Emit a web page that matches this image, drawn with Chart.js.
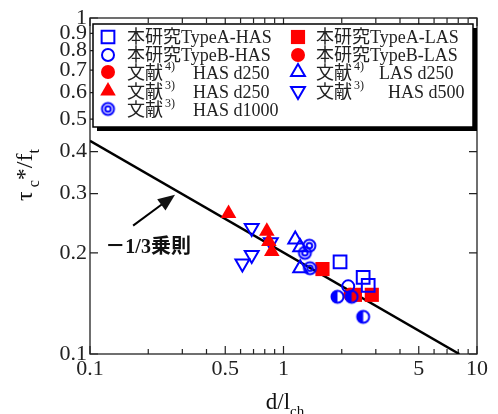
<!DOCTYPE html>
<html>
<head>
<meta charset="utf-8">
<script src="https://cdn.jsdelivr.net/npm/chart.js@4/dist/chart.umd.min.js"></script>
<style>
html, body { margin: 0; padding: 0; background: #fff; }
</style>
</head>
<body>
<canvas id="chart" width="498" height="414"></canvas>
<script>
// tau_c*/f_t vs d/l_ch (log-log)

var xTicks = [0.1, 0.5, 1, 5, 10];
var xMinorTicks = [0.2, 0.3, 0.4, 0.6, 0.7, 0.8, 0.9, 2, 3, 4, 6, 7, 8, 9];
var yTicks = [0.1, 0.2, 0.3, 0.4, 0.5, 0.6, 0.7, 0.8, 0.9, 1];

var typeAHasX = [1.96, 2.58, 2.74];
var typeAHasY = [0.188, 0.169, 0.160];
var typeBHasX = [2.16];
var typeBHasY = [0.159];
var typeALasX = [1.59, 2.34, 2.86];
var typeALasY = [0.179, 0.150, 0.150];
var typeBLasX = [2.21];
var typeBLasY = [0.150];
var ref4HasX = [];
var ref4HasY = [];
var ref3Has250X = [0.52, 0.82, 0.84, 0.87];
var ref3Has250Y = [0.262, 0.232, 0.216, 0.202];
var ref3Has1000X = [1.36, 1.29, 1.37];
var ref3Has1000Y = [0.210, 0.200, 0.180];
var ref4LasX = [1.15, 1.22, 1.22];
var ref4LasY = [0.219, 0.208, 0.180];
var ref3Has500X = [0.685, 0.685, 0.613, 0.86];
var ref3Has500Y = [0.237, 0.197, 0.186, 0.215];
var halfX = [1.90, 2.25, 2.58];
var halfY = [0.148, 0.148, 0.129];

var ruleX = [0.1, 8.1];
var ruleY = [0.431, 0.1];

var BLUE = '#0000ff';
var RED = '#ff0000';
var SERIF = '"Liberation Serif", "Noto Sans CJK JP", serif';

function pts(xs, ys) {
    return xs.map(function (x, i) { return { x: x, y: ys[i] }; });
}

function makeMarker(kind) {
    var c = document.createElement('canvas');
    c.width = 17; c.height = 17;
    var g = c.getContext('2d');
    g.strokeStyle = BLUE; g.fillStyle = BLUE; g.lineWidth = 2;
    if (kind === 'half') {
        g.beginPath(); g.arc(8.5, 8.5, 6, Math.PI / 2, Math.PI * 1.5); g.closePath(); g.fill();
        g.beginPath(); g.arc(8.5, 8.5, 6, 0, Math.PI * 2); g.stroke();
    } else {
        g.beginPath(); g.arc(8.5, 8.5, 6, 0, Math.PI * 2); g.stroke();
        g.beginPath(); g.arc(8.5, 8.5, 2.8, 0, Math.PI * 2); g.stroke();
    }
    return c;
}
var halfImg = makeMarker('half');
var ringImg = makeMarker('ring');

function openSet(label, xs, ys, style, r, rot) {
    return {
        label: label, data: pts(xs, ys), pointStyle: style, pointRadius: r, pointHoverRadius: r,
        pointRotation: rot || 0, pointBackgroundColor: 'rgba(0,0,0,0)', pointBorderColor: BLUE,
        pointBorderWidth: 2, showLine: false
    };
}
function fillSet(label, xs, ys, style, r) {
    return {
        label: label, data: pts(xs, ys), pointStyle: style, pointRadius: r, pointHoverRadius: r,
        pointBackgroundColor: RED, pointBorderColor: RED, pointBorderWidth: 0, showLine: false
    };
}

var datasets = [
    openSet('本研究TypeA-HAS', typeAHasX, typeAHasY, 'rect', 9),
    openSet('本研究TypeB-HAS', typeBHasX, typeBHasY, 'circle', 6),
    fillSet('文献4) HAS d250', ref4HasX, ref4HasY, 'circle', 7),
    fillSet('文献3) HAS d250', ref3Has250X, ref3Has250Y, 'triangle', 9),
    openSet('文献3) HAS d1000', ref3Has1000X, ref3Has1000Y, ringImg, 7),
    fillSet('本研究TypeA-LAS', typeALasX, typeALasY, 'rect', 10),
    fillSet('本研究TypeB-LAS', typeBLasX, typeBLasY, 'circle', 7),
    openSet('文献4) LAS d250', ref4LasX, ref4LasY, 'triangle', 8),
    openSet('文献3) HAS d500', ref3Has500X, ref3Has500Y, 'triangle', 8, 180),
    openSet('half', halfX, halfY, halfImg, 7),
    {
        label: 'rule', data: pts(ruleX, ruleY), showLine: true, pointRadius: 0,
        borderColor: '#000', borderWidth: 2.5, fill: false
    }
];
// half circles drawn above the red squares
datasets[9].order = -1;

// legend layout: [dataset index, column, row, superscript, rest, gap]
var legendCols = [108, 298];
var legendTextX = [127, 316];
var legendRows = [37, 55, 72, 91, 109];
var legendItems = [
    [0, 0, 0], [1, 0, 1], [2, 0, 2, '4)', 'HAS d250', 18], [3, 0, 3, '3)', 'HAS d250', 18],
    [4, 0, 4, '3)', 'HAS d1000', 18],
    [5, 1, 0], [6, 1, 1], [7, 1, 2, '4)', 'LAS d250', 15], [8, 1, 3, '3)', 'HAS d500', 24]
];

function drawMarker(ctx, ds, x, y) {
    var st = ds.pointStyle, r = ds.pointRadius, rot = (ds.pointRotation || 0) * Math.PI / 180;
    if (st instanceof HTMLCanvasElement) {
        ctx.drawImage(st, x - st.width / 2, y - st.height / 2);
        return;
    }
    ctx.save();
    ctx.translate(x, y);
    ctx.rotate(rot);
    ctx.beginPath();
    if (st === 'rect') {
        var s = r * Math.SQRT1_2;
        ctx.rect(-s, -s, 2 * s, 2 * s);
    } else if (st === 'triangle') {
        for (var k = 0; k < 3; k++) {
            var a = k * 2 * Math.PI / 3;
            if (k === 0) ctx.moveTo(Math.sin(a) * r, -Math.cos(a) * r);
            else ctx.lineTo(Math.sin(a) * r, -Math.cos(a) * r);
        }
        ctx.closePath();
    } else {
        ctx.arc(0, 0, r, 0, Math.PI * 2);
    }
    ctx.fillStyle = ds.pointBackgroundColor;
    ctx.fill();
    if (ds.pointBorderWidth > 0) {
        ctx.lineWidth = ds.pointBorderWidth;
        ctx.strokeStyle = ds.pointBorderColor;
        ctx.stroke();
    }
    ctx.restore();
}

function richWidth(ctx, parts, size) {
    var w = 0;
    parts.forEach(function (p) {
        ctx.font = (p[1] ? Math.round(size * 0.65) : size) + 'px ' + SERIF;
        w += ctx.measureText(p[0]).width;
    });
    return w;
}
function drawRich(ctx, parts, x, y, size) {
    parts.forEach(function (p) {
        ctx.font = (p[1] ? Math.round(size * 0.65) : size) + 'px ' + SERIF;
        var dy = p[1] === 'sub' ? size * 0.3 : (p[1] === 'sup' ? -size * 0.4 : 0);
        ctx.fillText(p[0], x, y + dy);
        x += ctx.measureText(p[0]).width;
    });
}

var framePlugin = {
    id: 'frame',
    beforeDatasetsDraw: function (chart) {
        var ctx = chart.ctx, a = chart.chartArea, xs = chart.scales.x, ys = chart.scales.y;
        ctx.save();
        ctx.strokeStyle = '#222';
        ctx.lineWidth = 1.3;
        ctx.strokeRect(a.left, a.top, a.right - a.left, a.bottom - a.top);
        ctx.lineWidth = 1.2;
        ctx.beginPath();
        function xt(v, len) {
            var p = xs.getPixelForValue(v);
            ctx.moveTo(p, a.bottom); ctx.lineTo(p, a.bottom - len);
            ctx.moveTo(p, a.top); ctx.lineTo(p, a.top + len);
        }
        xTicks.forEach(function (v) { xt(v, 8); });
        xMinorTicks.forEach(function (v) { xt(v, 5); });
        yTicks.forEach(function (v) {
            var p = ys.getPixelForValue(v);
            ctx.moveTo(a.left, p); ctx.lineTo(a.left + 8, p);
            ctx.moveTo(a.right, p); ctx.lineTo(a.right - 8, p);
        });
        ctx.stroke();
        ctx.restore();
    },
    afterDatasetsDraw: function (chart) {
        var ctx = chart.ctx;
        ctx.save();
        // legend box with shadow
        var L = 93, T = 24, R = 473, B = 127;
        ctx.fillStyle = '#000';
        ctx.fillRect(L + 4, T + 4, R - L, B - T);
        ctx.fillStyle = '#fff';
        ctx.fillRect(L, T, R - L, B - T);
        ctx.strokeStyle = '#000';
        ctx.lineWidth = 1.5;
        ctx.strokeRect(L, T, R - L, B - T);
        ctx.textBaseline = 'middle';
        ctx.textAlign = 'left';
        legendItems.forEach(function (it) {
            var ds = chart.data.datasets[it[0]];
            var y = legendRows[it[2]];
            drawMarker(ctx, ds, legendCols[it[1]], y);
            ctx.fillStyle = '#222';
            var tx = legendTextX[it[1]];
            ctx.font = '18px ' + SERIF;
            if (!it[3]) {
                ctx.fillText(ds.label, tx, y + 1);
            } else {
                ctx.fillText('文献', tx, y + 2);
                tx += ctx.measureText('文献').width + 2;
                ctx.font = '12px ' + SERIF;
                ctx.fillText(it[3], tx, y - 5);
                tx += ctx.measureText(it[3]).width + it[5];
                ctx.font = '18px ' + SERIF;
                ctx.fillText(it[4], tx, y + 2);
            }
        });
        ctx.restore();
    },
    afterDraw: function (chart) {
        var ctx = chart.ctx, xs = chart.scales.x, ys = chart.scales.y;
        ctx.save();
        ctx.fillStyle = '#111';
        ctx.strokeStyle = '#000';
        // arrow
        var x0 = xs.getPixelForValue(0.167), y0 = ys.getPixelForValue(0.241);
        var x1 = xs.getPixelForValue(0.275), y1 = ys.getPixelForValue(0.298);
        var ang = Math.atan2(y1 - y0, x1 - x0), hl = 17, hw = 7;
        ctx.lineWidth = 2;
        ctx.beginPath();
        ctx.moveTo(x0, y0);
        ctx.lineTo(x1 - Math.cos(ang) * hl * 0.8, y1 - Math.sin(ang) * hl * 0.8);
        ctx.stroke();
        ctx.beginPath();
        ctx.moveTo(x1, y1);
        ctx.lineTo(x1 - Math.cos(ang) * hl - Math.sin(ang) * hw, y1 - Math.sin(ang) * hl + Math.cos(ang) * hw);
        ctx.lineTo(x1 - Math.cos(ang) * hl + Math.sin(ang) * hw, y1 - Math.sin(ang) * hl - Math.cos(ang) * hw);
        ctx.closePath();
        ctx.fill();
        ctx.font = 'bold 20px ' + SERIF;
        ctx.textBaseline = 'middle';
        ctx.fillText('－1/3乗則', xs.getPixelForValue(0.12), ys.getPixelForValue(0.207));

        // x title
        ctx.textBaseline = 'alphabetic';
        var xp = [['d/l'], ['ch', 'sub']];
        var w = richWidth(ctx, xp, 23);
        drawRich(ctx, xp, 285 - w / 2, 409, 23);
        // y title
        ctx.translate(32, 175);
        ctx.rotate(-Math.PI / 2);
        var yp = [['τ'], [' c', 'sub'], ['*/f'], ['t', 'sub']];
        w = richWidth(ctx, yp, 24);
        drawRich(ctx, yp, -w / 2, 0, 24);
        ctx.restore();
    }
};

var ctx = document.getElementById('chart').getContext('2d');
new Chart(ctx, {
    type: 'scatter',
    data: { datasets: datasets },
    options: {
        responsive: false,
        animation: false,
        events: [],
        layout: { padding: { left: 0, top: 18, right: 21, bottom: 0 } },
        plugins: { legend: { display: false }, tooltip: { enabled: false } },
        scales: {
            x: {
                type: 'logarithmic', min: 0.1, max: 10,
                grid: { display: false, drawTicks: false },
                border: { display: false },
                afterBuildTicks: function (s) { s.ticks = xTicks.map(function (v) { return { value: v }; }); },
                afterFit: function (s) { s.height = 60; },
                ticks: {
                    autoSkip: false, maxRotation: 0, padding: 2, color: '#222',
                    font: { family: SERIF, size: 22 },
                    callback: function (v) { return String(v); }
                }
            },
            y: {
                type: 'logarithmic', min: 0.1, max: 1,
                grid: { display: false, drawTicks: false },
                border: { display: false },
                afterBuildTicks: function (s) { s.ticks = yTicks.map(function (v) { return { value: v }; }); },
                afterFit: function (s) { s.width = 90; },
                ticks: {
                    autoSkip: false, padding: 3, color: '#222',
                    font: { family: SERIF, size: 22 },
                    callback: function (v) { return String(v); }
                }
            }
        }
    },
    plugins: [framePlugin]
});
</script>
</body>
</html>
